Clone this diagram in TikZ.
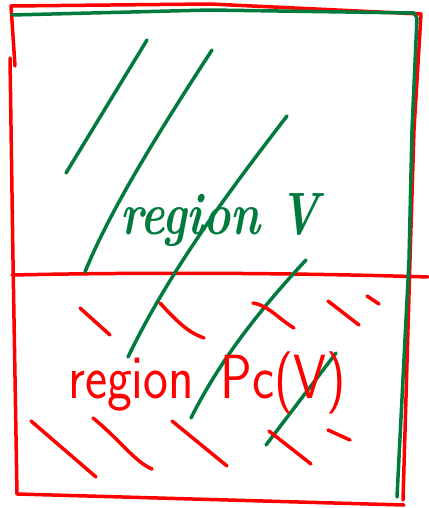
\documentclass[tikz,border=0pt]{standalone}
\usepackage{xcolor}
\usepackage{tikz}
\definecolor{penred}{RGB}{255,0,0}
\definecolor{pengreen}{RGB}{0,122,61}

\begin{document}
\begin{tikzpicture}[x=1pt, y=-1pt, line cap=round, line join=round,
  redpen/.style={draw=penred, line width=3.5pt},
  greenpen/.style={draw=pengreen, line width=3.5pt}]
\useasboundingbox (0,0) rectangle (428,508);

% red box and cut line
\draw[redpen] (15,66) -- (11,6) -- (210,4) -- (421,14) -- (414,130) -- (410,260) -- (403,500);
\draw[redpen] (10,58) -- (13,260) -- (17,494) -- (404,505);
\draw[redpen] (12,275) .. controls (150,272) and (300,273) .. (428,277);

% green box
\draw[greenpen] (12,15) -- (210,10) -- (414,13) -- (417,18) -- (412,130) -- (409,260) -- (397,497);

% green hatching
\draw[greenpen] (147,40) -- (66,173);
\draw[greenpen] (212,50) .. controls (160,130) and (110,210) .. (85,272);
\draw[greenpen] (287,116) .. controls (230,190) and (170,270) .. (128,357);
\draw[greenpen] (306,260) .. controls (250,320) and (215,370) .. (191,418);
\draw[greenpen] (336,353) -- (266,445);

% red hatching
\draw[redpen] (80,308) -- (110,335);
\draw[redpen] (160,303) .. controls (180,325) and (190,333) .. (204,338);
\draw[redpen] (253,303) .. controls (268,305) and (280,320) .. (294,328);
\draw[redpen] (328,301) -- (359,325);
\draw[redpen] (367,296) -- (379,304);
\draw[redpen] (31,421) -- (96,477);
\draw[redpen] (93,418) .. controls (120,440) and (135,462) .. (152,469);
\draw[redpen] (172,421) -- (227,466);
\draw[redpen] (269,431) -- (311,464);
\draw[redpen] (328,430) -- (350,440);

% labels
\node[text=pengreen, font=\fontsize{46}{46}\selectfont\bfseries\itshape, anchor=base west, inner sep=0pt] (regv) at (120,234) {\scalebox{1}[1.3]{region V}};
\node[text=penred, font=\fontsize{48}{48}\selectfont\sffamily, anchor=base west, inner sep=0pt] (regpc) at (68,398) {\scalebox{1.1}[1.3]{region\hspace{0.5em}Pc(V)}};
\end{tikzpicture}
\end{document}
